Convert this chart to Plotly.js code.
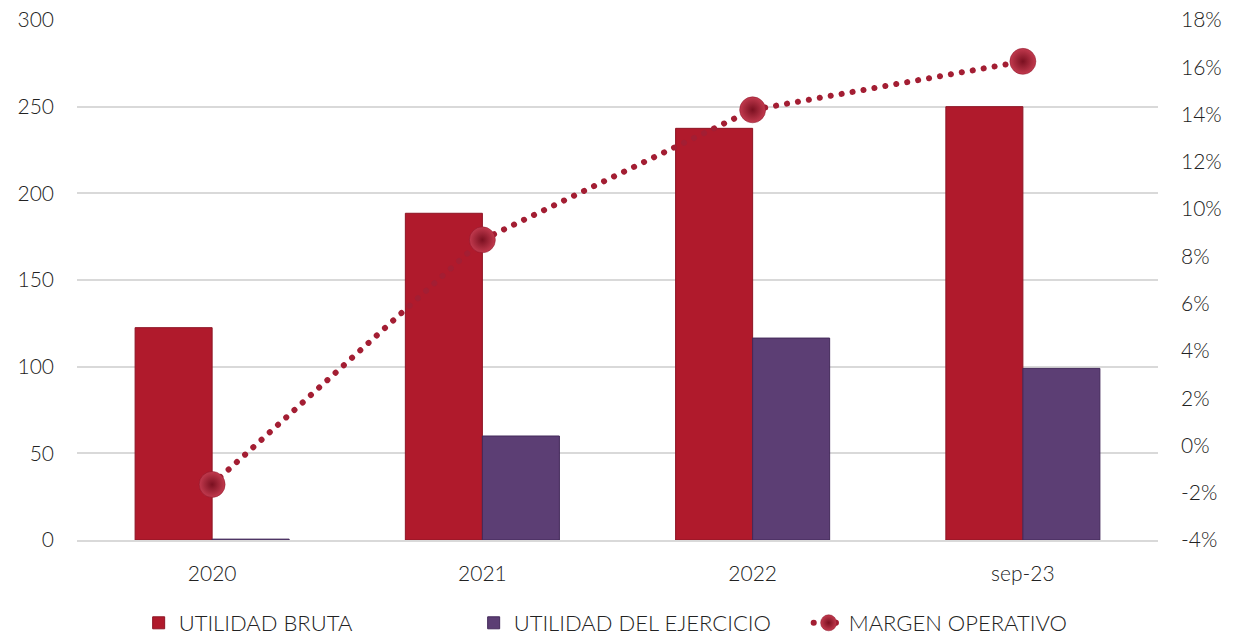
<!DOCTYPE html>
<html>
<head>
<meta charset="utf-8">
<script src="https://cdn.plot.ly/plotly-3.0.1.min.js"></script>
<style>html,body{margin:0;padding:0;background:#fff}#chart{width:1233px;height:644px}</style>
</head>
<body>
<div id="chart"></div>
<script>
const categories = ["2020", "2021", "2022", "sep-23"];
const utilidadBruta = [122.5, 188.5, 237.5, 250];
const utilidadEjercicio = [0.5, 60, 116.5, 99];
const margenOperativo = [-1.65, 8.7, 14.2, 16.25];
const leftTicks = [0, 50, 100, 150, 200, 250, 300];
const rightTicks = [-4, -2, 0, 2, 4, 6, 8, 10, 12, 14, 16, 18];

const fontFam = "Lato, 'Noto Sans', sans-serif";
const tf = {family: fontFam, size: 21, color: "#222", weight: 300};

const traces = [
  {
    type: "bar", name: "UTILIDAD BRUTA", x: categories, y: utilidadBruta,
    marker: {color: "#B01A2C", line: {color: "#8E1424", width: 1}},
    hoverinfo: "y"
  },
  {
    type: "bar", name: "UTILIDAD DEL EJERCICIO", x: categories, y: utilidadEjercicio,
    marker: {color: "#5C3E74", line: {color: "#43295A", width: 1}},
    hoverinfo: "y"
  },
  {
    type: "scatter", mode: "lines+markers", name: "MARGEN OPERATIVO",
    x: categories, y: margenOperativo, yaxis: "y2",
    line: {color: "#A31E33", width: 6, dash: "0.1px,11px"},
    marker: {size: 26, color: "#C23A4E", line: {color: "#8A1528", width: 0.5},
             gradient: {type: "radial", color: "#7A1020"}}
  }
];

const layout = {
  width: 1233, height: 644,
  margin: {l: 77, r: 75, t: 20, b: 104, autoexpand: false},
  paper_bgcolor: "#fff", plot_bgcolor: "#fff",
  font: tf,
  barmode: "group", bargap: 0.43, bargroupgap: 0,
  showlegend: true,
  legend: {orientation: "h", x: 0.52, xanchor: "center", xref: "container",
           y: 0, yanchor: "bottom", yref: "container",
           font: {family: fontFam, size: 22, color: "#222", weight: 300},
           itemwidth: 30, entrywidth: 290, entrywidthmode: "pixels",
           traceorder: "normal"},
  xaxis: {type: "category", range: [-0.5, 3.5], showgrid: false, zeroline: false,
          showline: true, linecolor: "#d9d9d9", linewidth: 2, automargin: false,
          ticks: "", ticklabelstandoff: 14, tickfont: tf},
  yaxis: {range: [0, 300], tickvals: leftTicks, ticktext: leftTicks.map(String),
          showgrid: true, gridcolor: "#d9d9d9", gridwidth: 2, zeroline: false,
          showline: false, ticks: "", ticklabelstandoff: 22, automargin: false, tickfont: tf},
  yaxis2: {range: [-4, 18], overlaying: "y", side: "right",
           tickvals: rightTicks, ticktext: rightTicks.map(v => v + "%"),
           showgrid: false, zeroline: false, showline: false, ticks: "", automargin: false,
           ticklabelstandoff: 22, tickfont: tf}
};

Plotly.newPlot("chart", traces, layout, {displayModeBar: false, staticPlot: true}).then(function (gd) {
  gd.querySelectorAll(".scatterlayer .js-line, .legend .js-line").forEach(function (p) {
    p.style.strokeLinecap = "round";
  });
});
</script>
</body>
</html>
